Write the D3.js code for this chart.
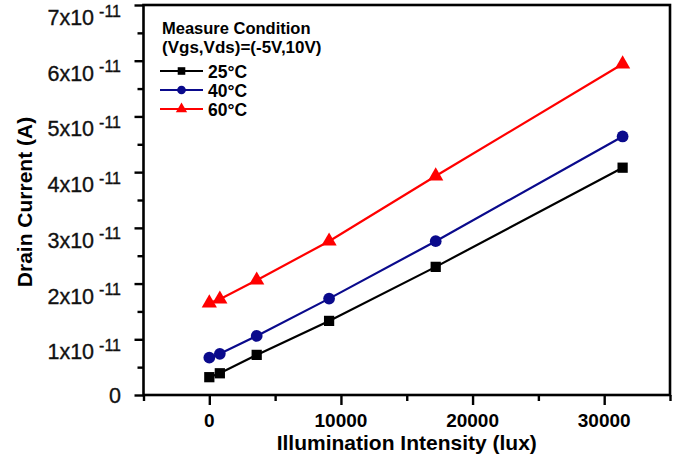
<!DOCTYPE html>
<html>
<head>
<meta charset="utf-8">
<script src="https://cdn.jsdelivr.net/npm/d3@7"></script>
<style>
  html, body { margin: 0; padding: 0; background: #fff; }
  svg { display: block; font-family: "Liberation Sans", Arial, sans-serif; }
</style>
</head>
<body>
<svg id="chart" width="690" height="459"></svg>
<script>
// Illumination intensity (lux) at each measurement
const illuminance = [0, 800, 3600, 9100, 17200, 31400];
// Drain current (A) at Vgs=-5V, Vds=10V for each temperature
const current25 = [3.2e-12, 3.9e-12, 7.2e-12, 1.33e-11, 2.30e-11, 4.08e-11];
const current40 = [6.7e-12, 7.4e-12, 1.06e-11, 1.73e-11, 2.76e-11, 4.64e-11];
const current60 = [1.65e-11, 1.72e-11, 2.06e-11, 2.76e-11, 3.93e-11, 5.94e-11];

const seriesNames = ["25°C", "40°C", "60°C"];

const xTickValues = [0, 10000, 20000, 30000];
const xMinorTicks = [-5000, 5000, 15000, 25000, 35000];
const yTickValues = [0, 1e-11, 2e-11, 3e-11, 4e-11, 5e-11, 6e-11, 7e-11];
const yTickMantissa = ["0", "1x10", "2x10", "3x10", "4x10", "5x10", "6x10", "7x10"];
const yTickExponent = ["", "-11", "-11", "-11", "-11", "-11", "-11", "-11"];
const yMinorTicks = [0.5e-11, 1.5e-11, 2.5e-11, 3.5e-11, 4.5e-11, 5.5e-11, 6.5e-11];

const svg = d3.select("#chart");
const frame = { left: 143.5, right: 670, top: 5, bottom: 395 };

const x = d3.scaleLinear().domain([-5000, 35000]).range([frame.left, frame.right]);
const y = d3.scaleLinear().domain([0, 7e-11]).range([frame.bottom, frame.top]);

const series = [
  { name: seriesNames[0], values: current25, color: "#000000", shape: "square" },
  { name: seriesNames[1], values: current40, color: "#0a0a8c", shape: "circle" },
  { name: seriesNames[2], values: current60, color: "#ff0000", shape: "triangle" }
];

function markerPath(shape, scale) {
  const types = { square: d3.symbolSquare, circle: d3.symbolCircle, triangle: d3.symbolTriangle };
  const sizes = { square: 105, circle: 108, triangle: 100 };
  return d3.symbol().type(types[shape]).size(sizes[shape] * scale)();
}

// Plot frame
svg.append("rect")
  .attr("x", frame.left).attr("y", frame.top)
  .attr("width", frame.right - frame.left).attr("height", frame.bottom - frame.top)
  .attr("fill", "none").attr("stroke", "#000").attr("stroke-width", 2.6);

// X axis ticks
const xAxisG = svg.append("g").attr("transform", `translate(0,${frame.bottom})`);
xAxisG.call(d3.axisBottom(x).tickValues(xTickValues).tickSize(10).tickSizeOuter(0).tickFormat(""));
const xMinorG = svg.append("g").attr("transform", `translate(0,${frame.bottom})`);
xMinorG.call(d3.axisBottom(x).tickValues(xMinorTicks).tickSize(6).tickSizeOuter(0).tickFormat(""));

// Y axis ticks
const yAxisG = svg.append("g").attr("transform", `translate(${frame.left},0)`);
yAxisG.call(d3.axisLeft(y).tickValues(yTickValues).tickSize(9).tickSizeOuter(0).tickFormat(""));
const yMinorG = svg.append("g").attr("transform", `translate(${frame.left},0)`);
yMinorG.call(d3.axisLeft(y).tickValues(yMinorTicks).tickSize(6).tickSizeOuter(0).tickFormat(""));

svg.selectAll(".domain").remove();
svg.selectAll(".tick line").attr("stroke", "#000").attr("stroke-width", 2.4);

// X tick labels
svg.append("g").selectAll("text")
  .data(xTickValues)
  .join("text")
  .attr("x", d => x(d))
  .attr("y", 427)
  .attr("text-anchor", "middle")
  .attr("font-size", 19)
  .attr("font-weight", "bold")
  .text(d => d3.format("d")(d));

// Y tick labels with superscript exponents
const yLabels = svg.append("g").selectAll("text")
  .data(yTickValues)
  .join("text")
  .attr("x", 121)
  .attr("y", (d, i) => yTickExponent[i] ? y(d) + 20 : y(d) + 7.5)
  .attr("text-anchor", "end")
  .attr("font-size", 21.5)
  .attr("fill", "#111")
  .attr("stroke", "#111")
  .attr("stroke-width", 0.35);
yLabels.append("tspan").text((d, i) => yTickMantissa[i]);
yLabels.filter((d, i) => yTickExponent[i])
  .append("tspan")
  .attr("dx", 5).attr("dy", -8.5)
  .attr("font-size", 16)
  .text(d => yTickExponent[yTickValues.indexOf(d)]);

// Axis titles
svg.append("text")
  .attr("x", (frame.left + frame.right) / 2)
  .attr("y", 450)
  .attr("text-anchor", "middle")
  .attr("font-size", 21)
  .attr("font-weight", "bold")
  .text("Illumination Intensity (lux)");

svg.append("text")
  .attr("transform", `translate(32,${(frame.top + frame.bottom) / 2 + 2}) rotate(-90)`)
  .attr("text-anchor", "middle")
  .attr("font-size", 21)
  .attr("font-weight", "bold")
  .text("Drain Current (A)");

// Series lines and markers
const line = d3.line().x((d, i) => x(illuminance[i])).y(d => y(d));
series.forEach(s => {
  svg.append("path")
    .datum(s.values)
    .attr("d", line)
    .attr("fill", "none")
    .attr("stroke", s.color)
    .attr("stroke-width", 2.2);
  svg.append("g").selectAll("path")
    .data(s.values)
    .join("path")
    .attr("transform", (d, i) => `translate(${x(illuminance[i])},${y(d)})`)
    .attr("d", markerPath(s.shape, 1))
    .attr("fill", s.color);
});

// Legend
const legend = svg.append("g");
legend.append("text")
  .attr("x", 162).attr("y", 34)
  .attr("font-size", 16.5).attr("font-weight", "bold")
  .text("Measure Condition");
legend.append("text")
  .attr("x", 162).attr("y", 53)
  .attr("font-size", 17).attr("font-weight", "bold")
  .text("(Vgs,Vds)=(-5V,10V)");

const rowY = [71, 90, 109];
series.forEach((s, i) => {
  legend.append("line")
    .attr("x1", 160).attr("x2", 203)
    .attr("y1", rowY[i]).attr("y2", rowY[i])
    .attr("stroke", s.color).attr("stroke-width", 2.2);
  legend.append("path")
    .attr("transform", `translate(181.5,${rowY[i]})`)
    .attr("d", markerPath(s.shape, 0.55))
    .attr("fill", s.color);
  legend.append("text")
    .attr("x", 208).attr("y", rowY[i] + 6.5)
    .attr("font-size", 17.5).attr("font-weight", "bold")
    .text(s.name);
});
</script>
</body>
</html>
